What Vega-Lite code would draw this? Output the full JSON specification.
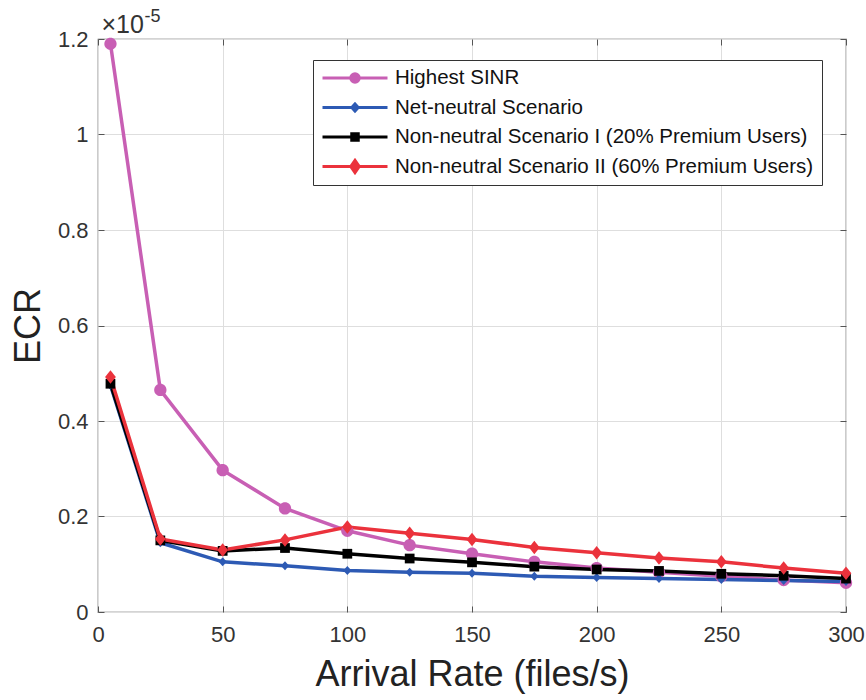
{
  "$schema": "https://vega.github.io/schema/vega-lite/v6.json",
  "width": 748,
  "height": 573,
  "autosize": {"type": "none"},
  "padding": {"left": 98, "top": 39, "right": 20, "bottom": 88},
  "background": "white",
  "config": {"view": {"stroke": "#555", "strokeWidth": 1.2}, "font": "Liberation Sans"},
  "data": {"values": [
    {"rate": 5, "ecr": 1.19, "series": "Highest SINR"},
    {"rate": 25, "ecr": 0.465, "series": "Highest SINR"},
    {"rate": 50, "ecr": 0.297, "series": "Highest SINR"},
    {"rate": 75, "ecr": 0.217, "series": "Highest SINR"},
    {"rate": 100, "ecr": 0.17, "series": "Highest SINR"},
    {"rate": 125, "ecr": 0.14, "series": "Highest SINR"},
    {"rate": 150, "ecr": 0.122, "series": "Highest SINR"},
    {"rate": 175, "ecr": 0.105, "series": "Highest SINR"},
    {"rate": 200, "ecr": 0.092, "series": "Highest SINR"},
    {"rate": 225, "ecr": 0.083, "series": "Highest SINR"},
    {"rate": 250, "ecr": 0.075, "series": "Highest SINR"},
    {"rate": 275, "ecr": 0.067, "series": "Highest SINR"},
    {"rate": 300, "ecr": 0.061, "series": "Highest SINR"},
    {"rate": 5, "ecr": 0.475, "series": "Net-neutral Scenario"},
    {"rate": 25, "ecr": 0.145, "series": "Net-neutral Scenario"},
    {"rate": 50, "ecr": 0.105, "series": "Net-neutral Scenario"},
    {"rate": 75, "ecr": 0.097, "series": "Net-neutral Scenario"},
    {"rate": 100, "ecr": 0.087, "series": "Net-neutral Scenario"},
    {"rate": 125, "ecr": 0.083, "series": "Net-neutral Scenario"},
    {"rate": 150, "ecr": 0.081, "series": "Net-neutral Scenario"},
    {"rate": 175, "ecr": 0.075, "series": "Net-neutral Scenario"},
    {"rate": 200, "ecr": 0.072, "series": "Net-neutral Scenario"},
    {"rate": 225, "ecr": 0.07, "series": "Net-neutral Scenario"},
    {"rate": 250, "ecr": 0.068, "series": "Net-neutral Scenario"},
    {"rate": 275, "ecr": 0.066, "series": "Net-neutral Scenario"},
    {"rate": 300, "ecr": 0.064, "series": "Net-neutral Scenario"},
    {"rate": 5, "ecr": 0.478, "series": "Non-neutral Scenario I (20% Premium Users)"},
    {"rate": 25, "ecr": 0.15, "series": "Non-neutral Scenario I (20% Premium Users)"},
    {"rate": 50, "ecr": 0.128, "series": "Non-neutral Scenario I (20% Premium Users)"},
    {"rate": 75, "ecr": 0.134, "series": "Non-neutral Scenario I (20% Premium Users)"},
    {"rate": 100, "ecr": 0.122, "series": "Non-neutral Scenario I (20% Premium Users)"},
    {"rate": 125, "ecr": 0.112, "series": "Non-neutral Scenario I (20% Premium Users)"},
    {"rate": 150, "ecr": 0.104, "series": "Non-neutral Scenario I (20% Premium Users)"},
    {"rate": 175, "ecr": 0.095, "series": "Non-neutral Scenario I (20% Premium Users)"},
    {"rate": 200, "ecr": 0.089, "series": "Non-neutral Scenario I (20% Premium Users)"},
    {"rate": 225, "ecr": 0.086, "series": "Non-neutral Scenario I (20% Premium Users)"},
    {"rate": 250, "ecr": 0.08, "series": "Non-neutral Scenario I (20% Premium Users)"},
    {"rate": 275, "ecr": 0.076, "series": "Non-neutral Scenario I (20% Premium Users)"},
    {"rate": 300, "ecr": 0.07, "series": "Non-neutral Scenario I (20% Premium Users)"},
    {"rate": 5, "ecr": 0.492, "series": "Non-neutral Scenario II (60% Premium Users)"},
    {"rate": 25, "ecr": 0.153, "series": "Non-neutral Scenario II (60% Premium Users)"},
    {"rate": 50, "ecr": 0.13, "series": "Non-neutral Scenario II (60% Premium Users)"},
    {"rate": 75, "ecr": 0.151, "series": "Non-neutral Scenario II (60% Premium Users)"},
    {"rate": 100, "ecr": 0.178, "series": "Non-neutral Scenario II (60% Premium Users)"},
    {"rate": 125, "ecr": 0.165, "series": "Non-neutral Scenario II (60% Premium Users)"},
    {"rate": 150, "ecr": 0.152, "series": "Non-neutral Scenario II (60% Premium Users)"},
    {"rate": 175, "ecr": 0.135, "series": "Non-neutral Scenario II (60% Premium Users)"},
    {"rate": 200, "ecr": 0.124, "series": "Non-neutral Scenario II (60% Premium Users)"},
    {"rate": 225, "ecr": 0.113, "series": "Non-neutral Scenario II (60% Premium Users)"},
    {"rate": 250, "ecr": 0.105, "series": "Non-neutral Scenario II (60% Premium Users)"},
    {"rate": 275, "ecr": 0.092, "series": "Non-neutral Scenario II (60% Premium Users)"},
    {"rate": 300, "ecr": 0.081, "series": "Non-neutral Scenario II (60% Premium Users)"}
  ]},
  "layer": [
    {
      "mark": {"type": "line", "strokeWidth": 3.5},
      "encoding": {
        "x": {"field": "rate", "type": "quantitative",
          "scale": {"domain": [0, 300], "nice": false, "zero": false},
          "axis": {"values": [0, 50, 100, 150, 200, 250, 300], "grid": true, "gridColor": "#dedede", "gridWidth": 1, "domain": false,
            "tickSize": -6, "tickColor": "#555", "labelFontSize": 22, "labelFont": "Liberation Sans", "labelColor": "#333",
            "labelPadding": 18, "labelFlush": false, "labelOverlap": false,
            "title": "Arrival Rate (files/s)", "titleFontSize": 36, "titleFont": "Liberation Sans", "titleFontWeight": "normal", "titleColor": "#222",
            "titleX": 374, "titleY": 73, "titleBaseline": "alphabetic", "titleAlign": "center"}},
        "y": {"field": "ecr", "type": "quantitative",
          "scale": {"domain": [0, 1.2], "nice": false},
          "axis": {"values": [0, 0.2, 0.4, 0.6, 0.8, 1, 1.2], "format": "~g", "grid": true, "gridColor": "#dedede", "gridWidth": 1, "domain": false,
            "tickSize": -6, "tickColor": "#555", "labelFontSize": 22, "labelFont": "Liberation Sans", "labelColor": "#333",
            "labelPadding": 16, "labelFlush": false, "labelOverlap": false,
            "title": "ECR", "titleFontSize": 36, "titleFont": "Liberation Sans", "titleFontWeight": "normal", "titleColor": "#222",
            "titleX": -70, "titleY": 286.5, "titleAngle": -90, "titleBaseline": "middle", "titleAlign": "center"}},
        "color": {"field": "series", "type": "nominal",
          "scale": {"domain": ["Highest SINR", "Net-neutral Scenario", "Non-neutral Scenario I (20% Premium Users)", "Non-neutral Scenario II (60% Premium Users)"],
            "range": ["#C85FB4", "#2D5AB4", "#000000", "#EB323C"]},
          "legend": {"orient": "none", "legendX": 215, "legendY": 21, "title": null,
            "padding": 8, "rowPadding": 8.5, "clipHeight": 20,
            "labelFontSize": 20.5, "labelFont": "Liberation Sans", "labelColor": "#111", "labelOffset": 6, "labelLimit": 600,
            "symbolSize": 4225, "symbolStrokeWidth": 3,
            "strokeColor": "#333", "fillColor": "white",
            "encode": {"symbols": {"update": {
              "shape": {"signal": "datum.value === 'Highest SINR' ? 'M-1,0L1,0M-0.13,0A0.13,0.13 0 1,0 0.13,0A0.13,0.13 0 1,0 -0.13,0Z' : datum.value === 'Net-neutral Scenario' ? 'M-1,0L1,0M0,-0.11L0.1,0L0,0.11L-0.1,0Z' : datum.value === 'Non-neutral Scenario I (20% Premium Users)' ? 'M-1,0L1,0M-0.1,-0.1L0.1,-0.1L0.1,0.1L-0.1,0.1Z' : 'M-1,0L1,0M0,-0.19L0.13,0L0,0.19L-0.13,0Z'"},
              "fill": {"signal": "scale('color', datum.value)"},
              "stroke": {"signal": "scale('color', datum.value)"},
              "strokeWidth": {"value": 3},
              "opacity": {"value": 1}}}}}}
      }
    },
    {
      "transform": [{"filter": "datum.series === 'Highest SINR'"}],
      "mark": {"type": "point", "filled": true, "opacity": 1, "size": 225, "color": "#C85FB4", "shape": "M-0.82,0A0.82,0.82 0 1,0 0.82,0A0.82,0.82 0 1,0 -0.82,0Z"},
      "encoding": {
        "x": {"field": "rate", "type": "quantitative", "axis": null},
        "y": {"field": "ecr", "type": "quantitative", "axis": null}
      }
    },
    {
      "transform": [{"filter": "datum.series === 'Net-neutral Scenario'"}],
      "mark": {"type": "point", "filled": true, "opacity": 1, "size": 225, "color": "#2D5AB4", "shape": "M0,-0.6L0.55,0L0,0.6L-0.55,0Z"},
      "encoding": {
        "x": {"field": "rate", "type": "quantitative", "axis": null},
        "y": {"field": "ecr", "type": "quantitative", "axis": null}
      }
    },
    {
      "transform": [{"filter": "datum.series === 'Non-neutral Scenario I (20% Premium Users)'"}],
      "mark": {"type": "point", "filled": true, "opacity": 1, "size": 225, "color": "#000000", "shape": "M-0.65,-0.65L0.65,-0.65L0.65,0.65L-0.65,0.65Z"},
      "encoding": {
        "x": {"field": "rate", "type": "quantitative", "axis": null},
        "y": {"field": "ecr", "type": "quantitative", "axis": null}
      }
    },
    {
      "transform": [{"filter": "datum.series === 'Non-neutral Scenario II (60% Premium Users)'"}],
      "mark": {"type": "point", "filled": true, "opacity": 1, "size": 225, "color": "#EB323C", "shape": "M0,-0.9L0.72,0L0,0.9L-0.72,0Z"},
      "encoding": {
        "x": {"field": "rate", "type": "quantitative", "axis": null},
        "y": {"field": "ecr", "type": "quantitative", "axis": null}
      }
    },
    {
      "mark": {"type": "line", "opacity": 0},
      "encoding": {
        "x": {"field": "rate", "type": "quantitative",
          "axis": {"orient": "top", "values": [0, 50, 100, 150, 200, 250, 300], "labels": false, "grid": false, "domain": false, "tickSize": -6, "tickColor": "#555",
            "title": "×10", "titleFontSize": 25, "titleFont": "Liberation Sans", "titleFontWeight": "normal", "titleColor": "#333",
            "titleX": 3, "titleY": -7, "titleAlign": "left", "titleBaseline": "alphabetic", "titleAngle": 0}},
        "y": {"field": "ecr", "type": "quantitative",
          "axis": {"orient": "right", "values": [0, 0.2, 0.4, 0.6, 0.8, 1, 1.2], "labels": false, "grid": false, "domain": false, "tickSize": -6, "tickColor": "#555",
            "title": "-5", "titleFontSize": 18, "titleFont": "Liberation Sans", "titleFontWeight": "normal", "titleColor": "#333",
            "titleX": -702, "titleY": -18, "titleAlign": "left", "titleBaseline": "alphabetic", "titleAngle": 0}},
        "detail": {"field": "series", "type": "nominal"}
      }
    }
  ],
  "resolve": {"axis": {"x": "independent", "y": "independent"}}
}
